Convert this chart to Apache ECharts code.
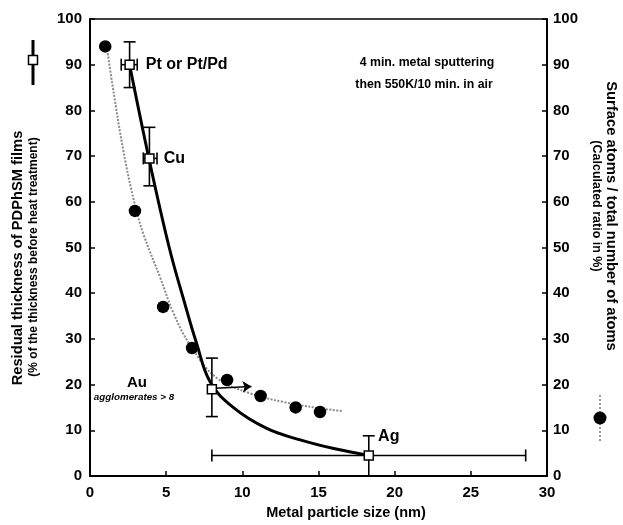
<!DOCTYPE html>
<html>
<head>
<meta charset="utf-8">
<script src="https://cdn.jsdelivr.net/npm/echarts@6/dist/echarts.min.js"></script>
<style>
html, body { margin: 0; padding: 0; background: #fff; }
#chart { width: 623px; height: 525px; }
</style>
</head>
<body>
<div id="chart"></div>
<script>
var xTicks = [0, 5, 10, 15, 20, 25, 30];
var yTicks = [0, 10, 20, 30, 40, 50, 60, 70, 80, 90, 100];

// residual thickness (squares): [size, value, yLow, yHigh, xLow, xHigh]
var metals = ['Pt or Pt/Pd', 'Cu', 'Au', 'Ag'];
var thickness = [
    [2.6, 90, 85, 95, 2.05, 3.1],
    [3.9, 69.5, 63.5, 76.3, 3.5, 4.4],
    [8.0, 19, 13, 25.8, null, null],
    [18.3, 4.5, 0, 8.8, 8.0, 28.6]
];
// thick black guide curve
var thicknessCurve = [
    [2.6, 90], [3.9, 69], [5.2, 50], [6.2, 38], [7.0, 29], [7.9, 20.5],
    [9.4, 15], [11.6, 10.4], [13.8, 7.9], [16, 6], [18.3, 4.5]
];
// surface atoms ratio (circles)
var surface = [
    [1.0, 94], [2.95, 58], [4.8, 37], [6.7, 28], [9.0, 21], [11.2, 17.5],
    [13.5, 15], [15.1, 14]
];
// calculated ratio curve (grey dotted)
var surfaceCurve = [
    [1.1, 94], [1.5, 85], [2.2, 71], [2.9, 60], [3.5, 53], [4.6, 43.5],
    [5.5, 35.5], [6.6, 28.5], [8.3, 21.5], [10.5, 18.1], [12.7, 16.2],
    [14.9, 14.9], [16.6, 14.2]
];

var chart = echarts.init(document.getElementById('chart'));
var font = 'Liberation Sans, Arial, sans-serif';

function errorBars(params, api) {
    var x = api.value(0), y = api.value(1);
    var cap = 6;
    var children = [];
    var st = { stroke: '#000', lineWidth: 1.6 };
    if (!isNaN(api.value(2))) {
        var lo = api.coord([x, api.value(2)]), hi = api.coord([x, api.value(3)]);
        children.push({ type: 'line', shape: { x1: lo[0], y1: lo[1], x2: hi[0], y2: hi[1] }, style: st });
        children.push({ type: 'line', shape: { x1: lo[0] - cap, y1: lo[1], x2: lo[0] + cap, y2: lo[1] }, style: st });
        children.push({ type: 'line', shape: { x1: hi[0] - cap, y1: hi[1], x2: hi[0] + cap, y2: hi[1] }, style: st });
    }
    if (!isNaN(api.value(4))) {
        var l = api.coord([api.value(4), y]), r = api.coord([api.value(5), y]);
        children.push({ type: 'line', shape: { x1: l[0], y1: l[1], x2: r[0], y2: r[1] }, style: st });
        children.push({ type: 'line', shape: { x1: l[0], y1: l[1] - cap, x2: l[0], y2: l[1] + cap }, style: st });
        children.push({ type: 'line', shape: { x1: r[0], y1: r[1] - cap, x2: r[0], y2: r[1] + cap }, style: st });
    }
    return { type: 'group', children: children };
}

var labelPos = [
    { position: 'right', offset: [6, 0] },
    { position: 'right', offset: [4, 0] },
    { show: false },
    { position: 'top', offset: [20, -1] }
];

function txt(x, y, s, size, extra) {
    var t = { type: 'text', x: x, y: y, style: { text: s, fontFamily: font, fontWeight: 'bold', fontSize: size, fill: '#000', align: 'center', verticalAlign: 'middle' } };
    if (extra) Object.assign(t, extra);
    return t;
}

var option = {
    animation: false,
    grid: { left: 90, right: 76, top: 19, bottom: 49 },
    xAxis: {
        type: 'value', min: xTicks[0], max: xTicks[xTicks.length - 1], interval: 5,
        axisLine: { lineStyle: { color: '#000', width: 2 } },
        axisTick: { inside: true, length: 5, lineStyle: { color: '#000', width: 1.5 } },
        axisLabel: { color: '#000', fontFamily: font, fontWeight: 'bold', fontSize: 15, margin: 9 },
        splitLine: { show: false }
    },
    yAxis: [{
        type: 'value', min: yTicks[0], max: yTicks[yTicks.length - 1], interval: 10,
        axisLine: { show: true, lineStyle: { color: '#000', width: 2 } },
        axisTick: { show: true, inside: true, length: 5, lineStyle: { color: '#000', width: 1.5 } },
        axisLabel: { color: '#000', fontFamily: font, fontWeight: 'bold', fontSize: 15, margin: 8 },
        splitLine: { show: false }
    }, {
        type: 'value', min: yTicks[0], max: yTicks[yTicks.length - 1], interval: 10, position: 'right',
        axisLine: { show: true, lineStyle: { color: '#000', width: 2 } },
        axisTick: { show: true, inside: true, length: 5, lineStyle: { color: '#000', width: 1.5 } },
        axisLabel: { color: '#000', fontFamily: font, fontWeight: 'bold', fontSize: 15, margin: 6 },
        splitLine: { show: false }
    }],
    graphic: [
        // top frame line
        { type: 'line', shape: { x1: 90, y1: 19, x2: 547, y2: 19 }, style: { stroke: '#000', lineWidth: 1.5 } },
        txt(427, 63, '4 min. metal sputtering', 12.3),
        txt(424, 85, 'then 550K/10 min. in air', 12.3),
        txt(137, 383, 'Au', 15),
        txt(134, 397, 'agglomerates > 8', 9.8, { style: { text: 'agglomerates > 8', fontFamily: font, fontWeight: 'bold', fontStyle: 'italic', fontSize: 9.8, fill: '#000', align: 'center', verticalAlign: 'middle' } }),
        txt(346, 513, 'Metal particle size (nm)', 14.5),
        txt(18, 258, 'Residual thickness of PDPhSM films', 14.7, { rotation: Math.PI / 2 }),
        txt(34, 257, '(% of the thickness before heat treatment)', 12, { rotation: Math.PI / 2 }),
        txt(611, 216, 'Surface atoms / total number of atoms', 14.8, { rotation: -Math.PI / 2 }),
        txt(596, 206, '(Calculated ratio in %)', 12.5, { rotation: -Math.PI / 2 }),
        // legend keys
        { type: 'line', shape: { x1: 33, y1: 40, x2: 33, y2: 85 }, style: { stroke: '#000', lineWidth: 3 } },
        { type: 'rect', shape: { x: 28.5, y: 55.5, width: 9, height: 9 }, style: { fill: '#fff', stroke: '#000', lineWidth: 1.5 } },
        { type: 'line', shape: { x1: 600, y1: 395, x2: 600, y2: 442 }, style: { stroke: '#777', lineWidth: 1.5, lineDash: [2, 2] } },
        { type: 'circle', shape: { cx: 600, cy: 418, r: 6.5 }, style: { fill: '#000' } }
    ],
    series: [{
        name: 'calc',
        type: 'line', yAxisIndex: 1, smooth: 0.4, symbol: 'none',
        lineStyle: { color: '#8a8a8a', width: 2, type: [2, 1.5] },
        data: surfaceCurve, z: 2
    }, {
        name: 'fit',
        type: 'line', smooth: 0.4, symbol: 'none',
        lineStyle: { color: '#000', width: 3 },
        data: thicknessCurve, z: 3
    }, {
        name: 'surface',
        type: 'scatter', yAxisIndex: 1, symbol: 'circle', symbolSize: 12.5,
        itemStyle: { color: '#000', opacity: 1 },
        data: surface, z: 4
    }, {
        name: 'errors',
        type: 'custom', renderItem: errorBars,
        data: thickness, z: 5
    }, {
        name: 'thickness',
        type: 'scatter', symbol: 'rect', symbolSize: 9,
        itemStyle: { color: '#fff', borderColor: '#000', borderWidth: 1.5, opacity: 1 },
        data: thickness.map(function (d, i) {
            return {
                value: [d[0], d[1]],
                label: Object.assign({
                    show: true, formatter: metals[i], color: '#000',
                    fontFamily: font, fontWeight: 'bold', fontSize: 16
                }, labelPos[i])
            };
        }),
        markLine: {
            silent: true, symbol: ['none', 'arrow'], symbolSize: 9,
            lineStyle: { color: '#000', width: 1.5, type: 'solid', opacity: 1 },
            label: { show: false },
            data: [[{ coord: [8.2, 19.2] }, { coord: [10.6, 19.6] }]]
        },
        z: 6
    }]
};

chart.setOption(option);
</script>
</body>
</html>
